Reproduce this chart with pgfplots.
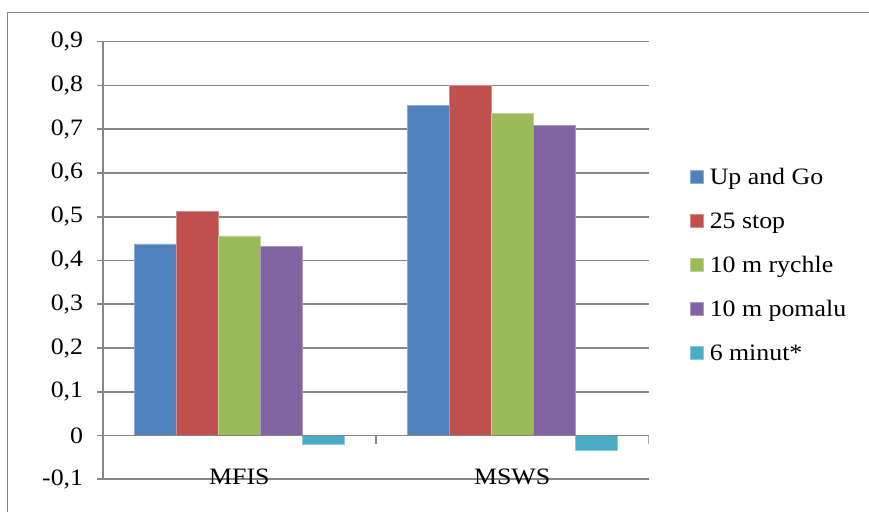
\documentclass[border=0pt]{standalone}
\usepackage{fontspec}
\setmainfont{Liberation Serif}[FakeStretch=1.1]
\usepackage{pgfplots}
\pgfplotsset{compat=1.18}

\definecolor{sBlue}{HTML}{4F81BD}
\definecolor{sRed}{HTML}{C0504D}
\definecolor{sGreen}{HTML}{9BBB59}
\definecolor{sPurple}{HTML}{8064A2}
\definecolor{sCyan}{HTML}{4BACC6}
\definecolor{lineGray}{RGB}{134,134,134}

\newcommand\chartfont{\fontsize{23.5bp}{27bp}\selectfont}

\begin{document}
\begin{tikzpicture}[x=1bp,y=1bp]
\useasboundingbox (0,0) rectangle (869,512);
% chart area frame
\draw[lineGray, line width=1.3bp] (7.5,-20) rectangle (900,499.5);

\begin{axis}[
  at={(103bp,32.7bp)}, anchor=south west,
  scale only axis, width=545.5bp, height=437.6bp,
  xmin=-0.5, xmax=1.5, ymin=-0.1, ymax=0.9,
  axis x line*=bottom, axis y line*=left,
  axis line style={lineGray, line width=1.6bp},
  ybar=0pt, bar width=42bp,
  xtick={0,1}, xticklabels={MFIS,MSWS},
  major x tick style={draw=none},
  xticklabel style={anchor=base, inner sep=0pt, yshift=0.5bp},
  ytick={-0.1,0,0.1,0.2,0.3,0.4,0.5,0.6,0.7,0.8,0.9},
  yticklabel style={anchor=east, inner sep=0pt, xshift=-13.7bp},
  tick align=outside, major tick length=6bp,
  major y tick style={lineGray, line width=1.6bp},
  ymajorgrids, major grid style={lineGray, line width=1.6bp},
  /pgf/number format/.cd, assume math mode=true, use comma, fixed, precision=1,
  /pgfplots/.cd,
  every tick label/.append style={font=\chartfont, text=black},
  legend style={
    at={(1.076,0.485)}, anchor=west, draw=none, fill=none,
    font=\chartfont, inner sep=0pt, column sep=6bp, row sep=24bp,
    nodes={inner sep=0pt, text height=15bp, text depth=5bp},
  },
  legend cell align=left,
  legend image code/.code={\fill[#1] (0bp,-4bp) rectangle (13bp,9bp);},
]
\addplot[fill=sBlue, draw=sBlue!65!white, line width=0.6bp]
  coordinates {(0,0.438) (1,0.754)};
\addplot[fill=sRed, draw=sRed!65!white, line width=0.6bp]
  coordinates {(0,0.513) (1,0.800)};
\addplot[fill=sGreen, draw=sGreen!65!white, line width=0.6bp]
  coordinates {(0,0.456) (1,0.737)};
\addplot[fill=sPurple, draw=sPurple!65!white, line width=0.6bp]
  coordinates {(0,0.432) (1,0.708)};
\addplot[fill=sCyan, draw=sCyan!65!white, line width=0.6bp]
  coordinates {(0,-0.019) (1,-0.034)};
\legend{Up and Go, 25 stop, 10 m rychle, 10 m pomalu, 6 minut*}

% horizontal axis at zero with category separators
\draw[lineGray, line width=1.6bp] (axis cs:-0.5,0) -- (axis cs:1.5,0);
\draw[lineGray, line width=1.6bp] (axis cs:0.5,0) -- ([yshift=-8bp]axis cs:0.5,0);
\draw[lineGray, line width=1.6bp] (axis cs:1.5,0) -- ([yshift=-8bp]axis cs:1.5,0);
\end{axis}
\end{tikzpicture}
\end{document}
